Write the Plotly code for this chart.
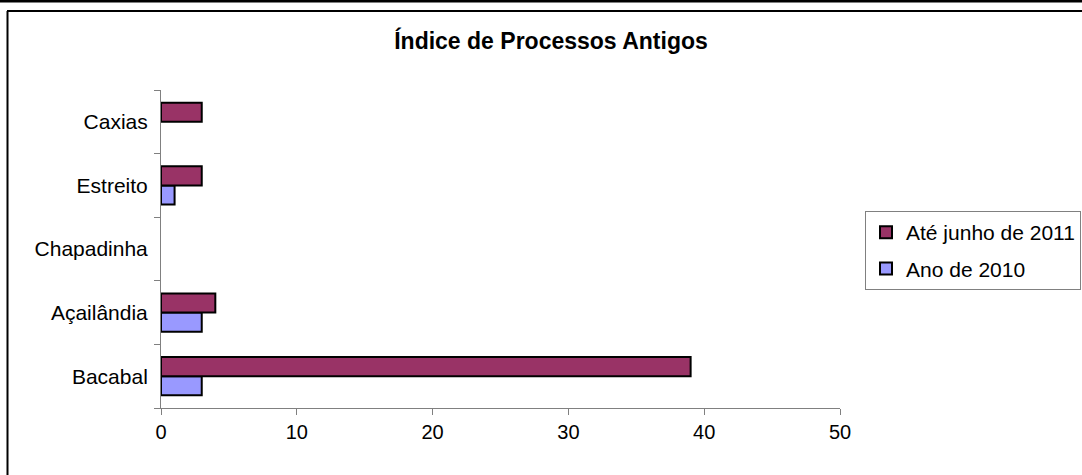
import plotly.graph_objects as go

# ---- data ----
categories = ["Bacabal", "Açailândia", "Chapadinha", "Estreito", "Caxias"]
serie_2010 = [3, 3, 0, 1, 0]
serie_2011 = [39, 4, 0, 3, 3]
name_2010 = "Ano de 2010"
name_2011 = "Até junho de 2011"
title_text = "Índice de Processos Antigos"
x_ticks = [0, 10, 20, 30, 40, 50]

W, H = 1082, 475
ML, MR, MT, MB = 161, 242, 90, 67
PW, PH = W - ML - MR, H - MT - MB

def px_x(px):
    return (px - ML) / PW

def px_y(py):
    return (H - MB - py) / PH

def hide_zero(vals):
    # zero-length bars are not drawn in the original chart
    return [v if v else None for v in vals]

FONT = "Liberation Sans, Arial, sans-serif"

fig = go.Figure()
fig.add_trace(go.Bar(
    y=categories, x=hide_zero(serie_2010), name=name_2010, orientation="h",
    marker=dict(color="#9999FF", line=dict(color="#000000", width=2)),
    legendgroup="g2010", legendrank=2,
))
fig.add_trace(go.Bar(
    y=categories, x=hide_zero(serie_2011), name=name_2011, orientation="h",
    marker=dict(color="#993366", line=dict(color="#000000", width=2)),
    legendgroup="g2011", legendrank=1,
))

shapes = [
    dict(type="line", xref="paper", yref="paper", x0=px_x(0), x1=px_x(W), y0=px_y(1), y1=px_y(1),
         line=dict(color="#000000", width=3)),
    dict(type="line", xref="paper", yref="paper", x0=px_x(7), x1=px_x(W), y0=px_y(11), y1=px_y(11),
         line=dict(color="#000000", width=2)),
    dict(type="line", xref="paper", yref="paper", x0=px_x(7.5), x1=px_x(7.5), y0=px_y(11), y1=px_y(H),
         line=dict(color="#000000", width=2)),
]

fig.update_layout(
    template="none",
    width=W, height=H,
    margin=dict(l=ML, r=MR, t=MT, b=MB, autoexpand=False),
    paper_bgcolor="white", plot_bgcolor="white",
    barmode="group", bargap=0.40, bargroupgap=0,
    font=dict(family=FONT, size=21, color="#000000"),
    title=dict(text="<b>" + title_text + "</b>", xref="container", yref="container",
               x=551 / W, y=1 - 41 / H, xanchor="center", yanchor="middle",
               font=dict(family=FONT, size=23, color="#000000")),
    xaxis=dict(range=[0, 50], tickvals=x_ticks, ticks="outside", ticklen=6, tickcolor="#808080",
               showline=True, linecolor="#808080", linewidth=1, showgrid=False, zeroline=False,
               tickfont=dict(size=20), automargin=False, fixedrange=True),
    yaxis=dict(type="category", categoryorder="array", categoryarray=categories,
               ticks="outside", ticklen=6, tickcolor="#808080", tickson="boundaries",
               showline=True, linecolor="#808080", linewidth=1, showgrid=False, zeroline=False,
               ticklabelstandoff=8, automargin=False, fixedrange=True),
    legend=dict(xref="container", yref="container", x=865 / W, y=1 - 211 / H,
                xanchor="left", yanchor="top", traceorder="grouped", tracegroupgap=6,
                bordercolor="#808080", borderwidth=1, bgcolor="white",
                font=dict(family=FONT, size=21, color="#000000")),
    shapes=shapes,
    showlegend=True,
)

fig.write_html("out.html", config={"displayModeBar": False},
               post_script="document.body.style.margin='0px';")
